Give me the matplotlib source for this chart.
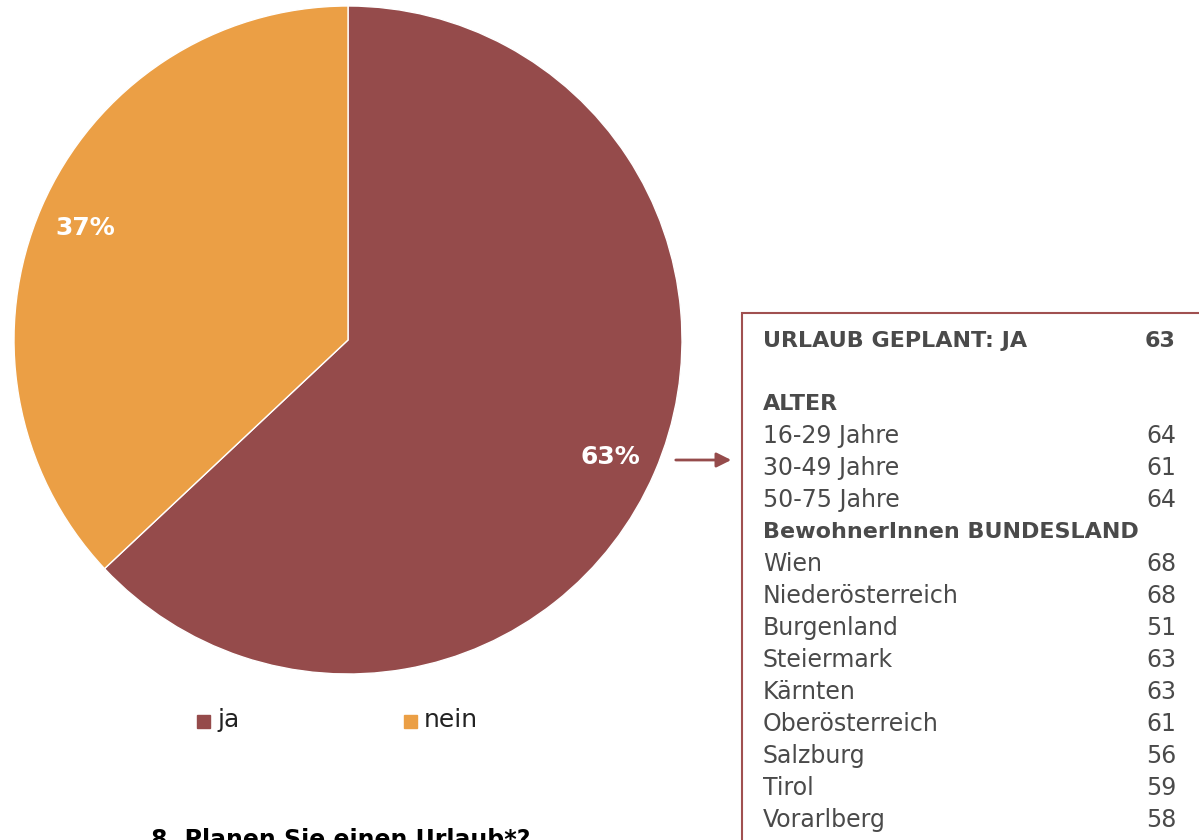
import matplotlib.pyplot as plt
from matplotlib.patches import Rectangle, FancyArrowPatch

# Daten
labels = ['ja', 'nein']
shares = [63, 37]
colors = ['#954B4B', '#EB9F45']

total_label = 'URLAUB GEPLANT: JA'
total_value = 63

age_groups = ['16-29 Jahre', '30-49 Jahre', '50-75 Jahre']
age_values = [64, 61, 64]

states = ['Wien', 'Niederösterreich', 'Burgenland', 'Steiermark', 'Kärnten',
          'Oberösterreich', 'Salzburg', 'Tirol', 'Vorarlberg']
state_values = [68, 68, 51, 63, 63, 61, 56, 59, 58]

W, H = 1199, 840
plt.rcParams['font.family'] = ['DejaVu Sans']
fig = plt.figure(figsize=(W / 100, H / 100), dpi=100)


def fx(px):
    return px / W


def fy(py):
    return 1 - py / H


# Kreisdiagramm
ax = fig.add_axes([fx(14), fy(674), fx(668), 668 / H])
wedges, _ = ax.pie(shares, colors=colors, startangle=90, counterclock=False,
                   radius=1, wedgeprops=dict(edgecolor='white', linewidth=1))
ax.set_xlim(-1, 1)
ax.set_ylim(-1, 1)
ax.set_aspect('equal')
ax.axis('off')

fig.text(fx(610), fy(457), f'{shares[0]}%', color='white', fontsize=18,
         fontweight='bold', ha='center', va='center')
fig.text(fx(85), fy(228), f'{shares[1]}%', color='white', fontsize=18,
         fontweight='bold', ha='center', va='center')

# Legende
for lab, col, x in zip(labels, colors, [197, 404]):
    fig.patches.append(Rectangle((fx(x), fy(728)), fx(13), 13 / H, color=col,
                                 transform=fig.transFigure))
    fig.text(fx(x + 20), fy(720), lab, fontsize=18, color='#222222',
             ha='left', va='center')

# Titel (unten abgeschnitten wie im Original)
fig.text(fx(341), fy(847), '8. Planen Sie einen Urlaub*?', fontsize=17,
         fontweight='bold', ha='center', va='baseline', color='black')

# Pfeil
fig.patches.append(FancyArrowPatch((fx(673), fy(460)), (fx(734), fy(460)),
                                   transform=fig.transFigure, arrowstyle='-|>',
                                   mutation_scale=22, color='#954B4B', lw=2))

# Tabelle
fig.patches.append(Rectangle((fx(742), fy(870)), fx(500), 557 / H, fill=False,
                             edgecolor='#A05050', lw=1.5, transform=fig.transFigure))

grey = '#4A4A4A'
xl, xr = 763, 1176


def row(y, left, right=None, bold=False):
    w = 'bold' if bold else 'normal'
    fs = 16 if bold else 17
    fig.text(fx(xl), fy(y), left, fontsize=fs, fontweight=w, color=grey,
             ha='left', va='center')
    if right is not None:
        fig.text(fx(xr), fy(y), str(right), fontsize=fs, fontweight=w,
                 color=grey, ha='right', va='center')


row(341, total_label, total_value, bold=True)
row(404, 'ALTER', bold=True)
y = 436
for a, v in zip(age_groups, age_values):
    row(y, a, v)
    y += 32
row(y, 'BewohnerInnen BUNDESLAND', bold=True)
y += 32
for s, v in zip(states, state_values):
    row(y, s, v)
    y += 32

fig.savefig('out.png', dpi=100)
